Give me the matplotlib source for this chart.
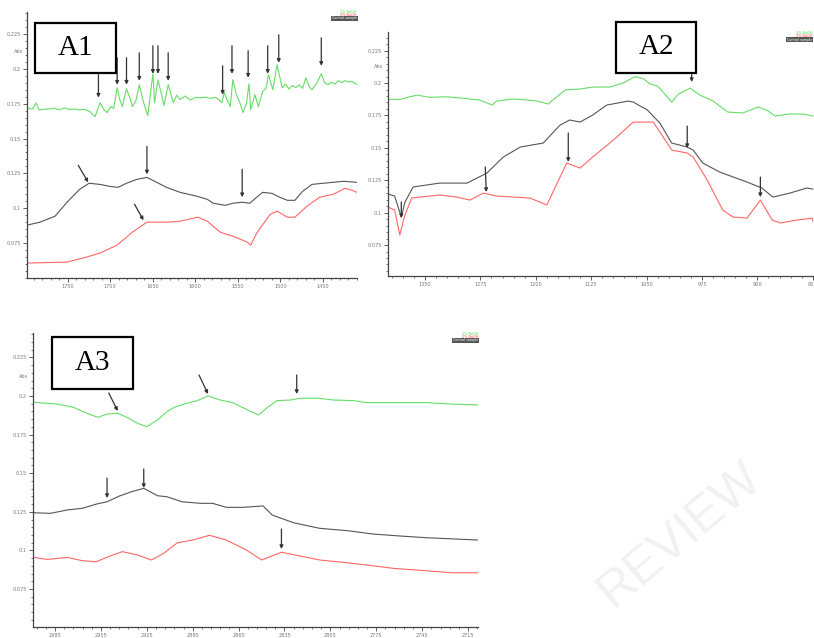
import matplotlib.pyplot as plt
import numpy as np
from matplotlib.patches import Rectangle
from matplotlib.ticker import FixedLocator, FixedFormatter
import matplotlib.transforms as mtransforms

W, H = 814, 638

# ---- panel A1 (1800-1400 cm-1) ----
a1_green_x = [1798, 1792, 1787, 1784, 1778, 1772, 1766, 1760, 1754, 1748, 1742, 1736, 1730, 1724,
              1718, 1712, 1708, 1704, 1699, 1696, 1692, 1689, 1686, 1681, 1677, 1674, 1670, 1666,
              1661, 1656, 1650, 1648, 1644, 1640, 1637, 1632, 1628, 1626, 1622, 1618, 1612, 1606,
              1600, 1594, 1588, 1582, 1576, 1572, 1569, 1566, 1563, 1559, 1556, 1552, 1548, 1544,
              1540, 1537, 1535, 1530, 1526, 1521, 1517, 1514, 1509, 1504, 1498, 1494, 1490, 1486,
              1482, 1478, 1474, 1470, 1466, 1463, 1458, 1452, 1448, 1444, 1440, 1436, 1432, 1428,
              1424, 1420, 1416, 1410]
a1_green_y = [0.172, 0.171, 0.1755, 0.1705, 0.171, 0.1712, 0.1718, 0.1705, 0.172, 0.1708, 0.1712,
              0.1705, 0.171, 0.1692, 0.1657, 0.1757, 0.171, 0.1686, 0.173, 0.1715, 0.1864, 0.178,
              0.1729, 0.1857, 0.179, 0.1729, 0.177, 0.1886, 0.176, 0.1664, 0.1964, 0.1757, 0.192,
              0.182, 0.1736, 0.1886, 0.18, 0.1757, 0.181, 0.178, 0.1805, 0.1775, 0.1795, 0.1792,
              0.1797, 0.1788, 0.1795, 0.1775, 0.1757, 0.1829, 0.178, 0.1729, 0.1921, 0.182, 0.176,
              0.1686, 0.175, 0.1893, 0.1707, 0.1814, 0.1729, 0.1836, 0.186, 0.1957, 0.185, 0.2029,
              0.1864, 0.189, 0.1855, 0.188, 0.1865, 0.1885, 0.186, 0.1936, 0.187, 0.185, 0.189,
              0.1964, 0.19, 0.1885, 0.1905, 0.189, 0.1915, 0.19, 0.1915, 0.1905, 0.191, 0.1886]
a1_gray_x = [1798, 1783, 1765, 1751, 1736, 1725, 1712, 1701, 1691, 1681, 1669, 1657, 1650, 1634,
             1618, 1598, 1586, 1579, 1565, 1556, 1545, 1536, 1528, 1521, 1510, 1501, 1492, 1483,
             1474, 1463, 1450, 1438, 1426, 1410]
a1_gray_y = [0.0879, 0.0900, 0.0943, 0.1043, 0.1136, 0.1179, 0.1171, 0.1157, 0.115, 0.1179, 0.1207,
             0.1221, 0.120, 0.115, 0.1114, 0.1086, 0.1064, 0.1036, 0.1021, 0.1036, 0.1043, 0.1036,
             0.1079, 0.1114, 0.1107, 0.1079, 0.1057, 0.1057, 0.1121, 0.1171, 0.1179, 0.1186,
             0.1193, 0.1186]
a1_red_x = [1798, 1751, 1728, 1712, 1692, 1674, 1657, 1634, 1618, 1597, 1586, 1571, 1556, 1539,
            1535, 1528, 1512, 1504, 1492, 1483, 1469, 1454, 1438, 1424, 1416, 1410]
a1_red_y = [0.0607, 0.0614, 0.065, 0.0679, 0.0736, 0.0829, 0.090, 0.090, 0.0907, 0.0936, 0.0907,
            0.0829, 0.080, 0.0757, 0.0736, 0.0821, 0.0957, 0.0979, 0.0936, 0.0936, 0.1014, 0.1079,
            0.110, 0.1143, 0.1129, 0.1114]
a1_xticks = [1750, 1700, 1650, 1600, 1550, 1500, 1450]

# ---- panel A2 (1400-825 cm-1) ----
a2_green_x = [1400, 1384, 1361, 1343, 1320, 1303, 1276, 1259, 1253, 1231, 1212, 1198, 1183, 1177,
              1160, 1140, 1123, 1100, 1082, 1066, 1055, 1045, 1035, 1016, 1007, 991, 978, 960,
              940, 920, 899, 887, 876, 856, 838, 825]
a2_green_y = [0.1874, 0.1874, 0.1907, 0.189, 0.1894, 0.1885, 0.1869, 0.183, 0.1861, 0.1877, 0.1869,
              0.1861, 0.1838, 0.1869, 0.1946, 0.1954, 0.1969, 0.1969, 0.200, 0.2049, 0.2036,
              0.1992, 0.1977, 0.1853, 0.1915, 0.1961, 0.1907, 0.1861, 0.1776, 0.1769, 0.1815,
              0.179, 0.1745, 0.1761, 0.1761, 0.1745]
a2_gray_x = [1400, 1391, 1382, 1377, 1366, 1330, 1293, 1266, 1244, 1221, 1190, 1167, 1154, 1140,
             1123, 1104, 1075, 1068, 1049, 1032, 1016, 995, 987, 974, 951, 914, 894, 879, 856,
             833, 825]
a2_gray_y = [0.1144, 0.1128, 0.0966, 0.1082, 0.1198, 0.1228, 0.1228, 0.1306, 0.1429, 0.1506,
             0.1537, 0.1676, 0.1715, 0.1699, 0.1753, 0.183, 0.1861, 0.1853, 0.1792, 0.1691,
             0.1537, 0.1506, 0.1483, 0.1383, 0.1313, 0.1236, 0.119, 0.112, 0.1151, 0.119, 0.1182]
a2_red_x = [1400, 1391, 1384, 1378, 1368, 1330, 1307, 1289, 1271, 1253, 1208, 1185, 1171, 1158,
            1140, 1123, 1095, 1068, 1041, 1032, 1016, 995, 987, 968, 947, 933, 914, 896, 880,
            869, 846, 826, 825]
a2_red_y = [0.1043, 0.102, 0.0827, 0.0966, 0.1113, 0.1136, 0.112, 0.1097, 0.1151, 0.1128, 0.1113,
            0.1059, 0.1228, 0.1383, 0.1344, 0.1429, 0.156, 0.1699, 0.1699, 0.1622, 0.1483, 0.146,
            0.1429, 0.1252, 0.102, 0.0966, 0.0958, 0.1097, 0.0943, 0.092, 0.0943, 0.0958, 0.0935]
a2_xticks = [1350, 1275, 1200, 1125, 1050, 975, 900, 825]

# ---- panel A3 (3000-2710 cm-1) ----
a3_green_x = [2999, 2984, 2973, 2964, 2957, 2951, 2944, 2938, 2931, 2925, 2918, 2912, 2907, 2899,
              2892, 2885, 2877, 2869, 2860, 2852, 2846, 2840, 2831, 2825, 2812, 2803, 2790, 2781,
              2759, 2742, 2727, 2708]
a3_green_y = [0.1959, 0.1948, 0.1927, 0.1888, 0.1862, 0.1883, 0.1888, 0.1862, 0.1823, 0.1801,
              0.1845, 0.1898, 0.1927, 0.1953, 0.197, 0.200, 0.1974, 0.1957, 0.1914, 0.1877,
              0.1927, 0.197, 0.1974, 0.1985, 0.1985, 0.1974, 0.197, 0.1957, 0.1957, 0.1957,
              0.1948, 0.1942]
a3_gray_x = [2999, 2988, 2977, 2967, 2958, 2951, 2943, 2935, 2927, 2918, 2912, 2902, 2890, 2882,
             2873, 2862, 2849, 2843, 2829, 2812, 2794, 2777, 2759, 2742, 2708]
a3_gray_y = [0.1244, 0.124, 0.1262, 0.1273, 0.130, 0.1315, 0.1352, 0.138, 0.1402, 0.1354, 0.1348,
             0.1315, 0.1305, 0.1305, 0.1279, 0.1279, 0.1288, 0.1229, 0.1179, 0.1143, 0.1128,
             0.1106, 0.1093, 0.1082, 0.1067]
a3_red_x = [2999, 2990, 2977, 2967, 2958, 2949, 2941, 2931, 2922, 2914, 2905, 2895, 2884, 2873,
            2860, 2850, 2837, 2825, 2812, 2794, 2781, 2764, 2742, 2725, 2708]
a3_red_y = [0.0955, 0.0942, 0.0955, 0.0933, 0.0927, 0.0964, 0.0992, 0.097, 0.0938, 0.0981, 0.105,
            0.1067, 0.1098, 0.1067, 0.1003, 0.0938, 0.0988, 0.0964, 0.0938, 0.092, 0.0905,
            0.0884, 0.0868, 0.0855, 0.0855]
a3_xticks = [2985, 2955, 2925, 2895, 2865, 2835, 2805, 2775, 2745, 2715]

yticks = [0.075, 0.1, 0.125, 0.15, 0.175, 0.2, 0.225]
ytick_labels = ['0.075', '0.1', '0.125', '0.15', '0.175', '0.2', '0.225']

# arrows: tip (x, y) in data, start offset in pixels (dx, dy), dy > 0 = above
a1_arrows = [(1714, 0.1793, 0, 23), (1692, 0.1886, 0, 27), (1681, 0.1886, 0, 27),
             (1666, 0.1914, 0, 28), (1650, 0.1964, 0, 28), (1644, 0.1964, 0, 28),
             (1632, 0.1914, 0, 28), (1568, 0.1814, 0, 29), (1557, 0.1964, 0, 28),
             (1538, 0.1936, 0, 27), (1515, 0.1964, 0, 28), (1502, 0.2043, 0, 28),
             (1452, 0.2021, 0, 28), (1726, 0.1186, -10, 17), (1657, 0.1243, 0, 28),
             (1545, 0.1079, 0, 28), (1661, 0.0914, -9, 16)]
a2_arrows = [(1382, 0.0958, 0, 16), (1267, 0.1159, -1, 25), (1156, 0.1391, 0, 29),
             (995, 0.1498, 0, 22), (989, 0.2008, 0, 9), (896, 0.112, 0, 20)]
a3_arrows = [(2944, 0.1903, -9, 18), (2885, 0.2013, -9, 19), (2827, 0.2013, 0, 19),
             (2951, 0.1339, 0, 20), (2927, 0.1404, 0, 19), (2837, 0.1009, 0, 20)]

GREEN = '#66dd66'
GRAY = '#555555'
RED = '#ff6666'


def make_panel(fig, px_box, xlim, ylim, xticks, xminor, lines, arrows, label, label_box, legend_px):
    l, t, r, b = px_box
    ax = fig.add_axes([l / W, 1 - b / H, (r - l) / W, (b - t) / H])
    for xs, ys, c in lines:
        ax.plot(xs, ys, color=c, lw=0.8)
    ax.set_xlim(*xlim)
    ax.set_ylim(*ylim)
    for s in ['top', 'right']:
        ax.spines[s].set_visible(False)
    for s in ['left', 'bottom']:
        ax.spines[s].set_color('#444444')
        ax.spines[s].set_linewidth(0.9)
    ax.xaxis.set_major_locator(FixedLocator(xticks))
    ax.xaxis.set_major_formatter(FixedFormatter([str(v) for v in xticks]))
    step = xticks[0] - xticks[1]
    ax.xaxis.set_minor_locator(FixedLocator(np.arange(xticks[-1] - step, xticks[0] + step, xminor)))
    ax.yaxis.set_major_locator(FixedLocator(yticks))
    ax.yaxis.set_major_formatter(FixedFormatter(ytick_labels))
    ax.yaxis.set_minor_locator(FixedLocator(np.arange(0.05, 0.245, 0.005)))
    ax.tick_params(which='major', length=3, width=0.6, color='#444444', labelsize=3.6,
                   labelcolor='#777777', pad=1.5)
    ax.tick_params(which='minor', length=1.6, width=0.5, color='#444444')
    trans = mtransforms.blended_transform_factory(ax.transAxes, ax.transData)
    ax.text(-0.012, 0.2125, 'Abs', transform=trans, ha='right', va='center',
            fontsize=3.6, color='#777777')
    for x, y, dx, dy in arrows:
        ax.annotate('', xy=(x, y), xytext=(dx * 0.72, dy * 0.72), textcoords='offset points',
                    arrowprops=dict(arrowstyle='-|>', color='#333333', lw=0.9,
                                    mutation_scale=5, shrinkA=0, shrinkB=0))
    # label box
    bl, bt, br, bb = label_box
    fig.add_artist(Rectangle((bl / W, 1 - bb / H), (br - bl) / W, (bb - bt) / H,
                             transform=fig.transFigure, fill=True, facecolor='white',
                             edgecolor='black', lw=1.6))
    fig.text((bl + br) / 2 / W, 1 - (bt + bb) / 2 / H, label, ha='center', va='center',
             fontsize=21, family='Liberation Serif')
    # tiny legend
    lx, ly = legend_px
    fig.text(lx / W, 1 - ly / H, '1% NaOH', color='#44dd44', fontsize=2.4, ha='right', va='center')
    fig.text(lx / W, 1 - (ly + 3) / H, '2% NaOH', color='#ff4444', fontsize=2.4, ha='right', va='center')
    fig.text(lx / W, 1 - (ly + 6.5) / H, 'Control sample', color='white', fontsize=2.4,
             ha='right', va='center', bbox=dict(boxstyle='square,pad=0.15', fc='#555555', ec='none'))
    return ax


fig = plt.figure(figsize=(W / 100, H / 100), dpi=100)
fig.patch.set_facecolor('white')

make_panel(fig, (27, 12, 357, 278), (1798, 1410), (0.05, 0.2407), a1_xticks, 10,
           [(a1_green_x, a1_green_y, GREEN), (a1_gray_x, a1_gray_y, GRAY), (a1_red_x, a1_red_y, RED)],
           a1_arrows, 'A1', (35, 23, 116, 73), (357, 12))
make_panel(fig, (388, 32, 816, 276), (1400, 820.7), (0.0511, 0.2394), a2_xticks, 15,
           [(a2_green_x, a2_green_y, GREEN), (a2_gray_x, a2_gray_y, GRAY), (a2_red_x, a2_red_y, RED)],
           a2_arrows, 'A2', (616, 22, 696, 73), (812, 33))
make_panel(fig, (33, 333, 478, 627), (2999.4, 2708.5), (0.0504, 0.2408), a3_xticks, 6,
           [(a3_green_x, a3_green_y, GREEN), (a3_gray_x, a3_gray_y, GRAY), (a3_red_x, a3_red_y, RED)],
           a3_arrows, 'A3', (52, 337, 133, 389), (478, 334))

# faint watermark in the lower right corner
fig.text(680 / W, 1 - 535 / H, 'REVIEW', fontsize=36, color='#f1f1f1', rotation=40,
         ha='center', va='center', family='Liberation Sans', zorder=-10)

fig.savefig('out.png', dpi=100)
